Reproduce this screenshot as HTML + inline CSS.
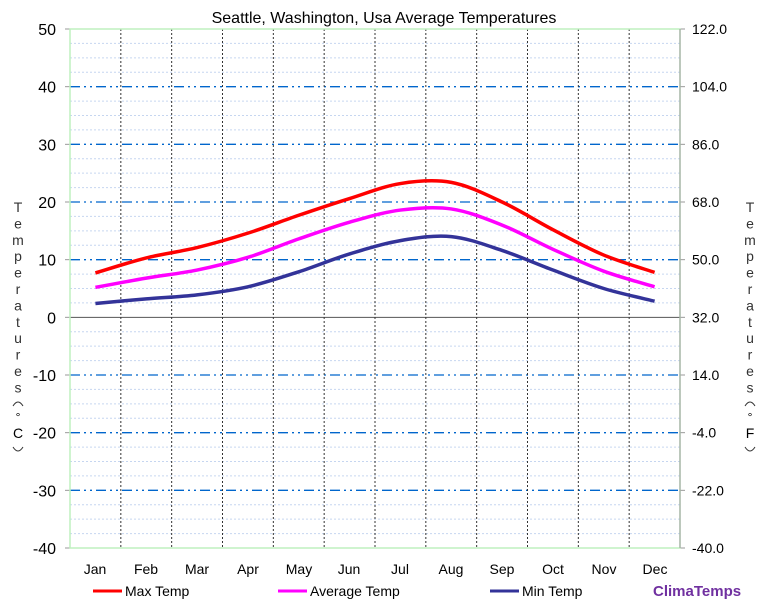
<!DOCTYPE html>
<html><head><meta charset="utf-8"><style>
html,body{margin:0;padding:0;background:#fff}
svg{display:block;font-family:"Liberation Sans",sans-serif}
</style></head><body>
<svg id="s" width="768" height="608" viewBox="0 0 768 608" xmlns="http://www.w3.org/2000/svg">
<rect width="768" height="608" fill="#fff"/>
<text x="384" y="23" font-size="16" text-anchor="middle" fill="#000">Seattle, Washington, Usa Average Temperatures</text>
<g id="g"></g>
<text x="95" y="574" font-size="14" text-anchor="middle">Jan</text>
<text x="146" y="574" font-size="14" text-anchor="middle">Feb</text>
<text x="197" y="574" font-size="14" text-anchor="middle">Mar</text>
<text x="248" y="574" font-size="14" text-anchor="middle">Apr</text>
<text x="299" y="574" font-size="14" text-anchor="middle">May</text>
<text x="349" y="574" font-size="14" text-anchor="middle">Jun</text>
<text x="400" y="574" font-size="14" text-anchor="middle">Jul</text>
<text x="451" y="574" font-size="14" text-anchor="middle">Aug</text>
<text x="502" y="574" font-size="14" text-anchor="middle">Sep</text>
<text x="553" y="574" font-size="14" text-anchor="middle">Oct</text>
<text x="604" y="574" font-size="14" text-anchor="middle">Nov</text>
<text x="655" y="574" font-size="14" text-anchor="middle">Dec</text>
<line x1="93" y1="591" x2="122" y2="591" stroke="#ff0000" stroke-width="3"/>
<text x="125" y="596" font-size="14">Max Temp</text>
<line x1="278" y1="591" x2="307" y2="591" stroke="#ff00ff" stroke-width="3"/>
<text x="310" y="596" font-size="14">Average Temp</text>
<line x1="490" y1="591" x2="519" y2="591" stroke="#333399" stroke-width="3"/>
<text x="522" y="596" font-size="14">Min Temp</text>
<text x="653" y="596" font-size="15" font-weight="bold" fill="#7030a0">ClimaTemps</text>
</svg>
<script>
var g=document.getElementById('g'),NS='http://www.w3.org/2000/svg';
function el(n,a,t){var e=document.createElementNS(NS,n);for(var k in a)e.setAttribute(k,a[k]);if(t!=null)e.textContent=t;g.appendChild(e);return e;}
var L=70,R=680,T=29,B=548,cw=(R-L)/12;
function Y(t){return T+(50-t)*(B-T)/90;}
for(var t=-40;t<=50;t+=2.5){var y=Y(t);
 if(t%10==0){ if(t==0) el('line',{x1:L,y1:y,x2:R,y2:y,stroke:'#555','stroke-width':1});
  else if(t!=50&&t!=-40) el('line',{x1:L,y1:y,x2:R,y2:y,stroke:'#0066cc','stroke-width':1.3,'stroke-dasharray':'10,4,2,4,2,4'});
  el('text',{x:56,y:y+6,'font-size':16,'text-anchor':'end'},t);
  var f=(t*9/5+32).toFixed(1);el('text',{x:692,y:y+5,'font-size':14},f);
  el('line',{x1:65,y1:y,x2:L,y2:y,stroke:'#999'});el('line',{x1:R,y1:y,x2:R+5,y2:y,stroke:'#999'});
 } else el('line',{x1:L,y1:y,x2:R,y2:y,stroke:'#c6d6f0','stroke-width':1,'stroke-dasharray':'2,2'});}
for(var i=1;i<12;i++){var x=L+i*cw;el('line',{x1:x,y1:T,x2:x,y2:B,stroke:'#333','stroke-width':1,'stroke-dasharray':'2,2'});}
el('rect',{x:L,y:T,width:R-L,height:B-T,fill:'none',stroke:'#bff0bf','stroke-width':1.5});
el('line',{x1:R,y1:T,x2:R,y2:B,stroke:'#999'});
var lt="Temperatures";
[18,750].forEach(function(cx,j){
 for(var i=0;i<lt.length;i++) el('text',{x:cx,y:212+i*16.4,'font-size':14,'text-anchor':'middle','fill':'#333'},lt[i]);
 el('path',{d:'M'+(cx-5)+',406 Q'+cx+',398 '+(cx+5)+',406',fill:'none',stroke:'#333','stroke-width':1});
 el('text',{x:cx,y:421,'font-size':12,'text-anchor':'middle'},'°');
 el('text',{x:cx,y:438,'font-size':14,'text-anchor':'middle'},j?'F':'C');
 el('path',{d:'M'+(cx-5)+',447 Q'+cx+',455 '+(cx+5)+',447',fill:'none',stroke:'#333','stroke-width':1});
});
function curve(d,c){var p=d.map(function(v,i){return[L+(i+0.5)*cw,Y(v)];});var s='M'+p[0][0]+','+p[0][1];
 for(var i=0;i<p.length-1;i++){var p0=p[i-1]||p[i],p1=p[i],p2=p[i+1],p3=p[i+2]||p2;
  s+=' C'+(p1[0]+(p2[0]-p0[0])/6)+','+(p1[1]+(p2[1]-p0[1])/6)+' '+(p2[0]-(p3[0]-p1[0])/6)+','+(p2[1]-(p3[1]-p1[1])/6)+' '+p2[0]+','+p2[1];}
 el('path',{d:s,fill:'none',stroke:c,'stroke-width':3.5,'stroke-linejoin':'round'});}
curve([7.7,10.3,12.1,14.6,17.7,20.6,23.2,23.4,20.0,15.2,10.8,7.8],'#ff0000');
curve([5.2,6.8,8.2,10.4,13.6,16.5,18.6,18.8,16.0,11.8,8.0,5.3],'#ff00ff');
curve([2.4,3.2,3.9,5.3,7.9,11.0,13.3,14.0,11.6,8.2,5.0,2.8],'#333399');
</script>
</body></html>
